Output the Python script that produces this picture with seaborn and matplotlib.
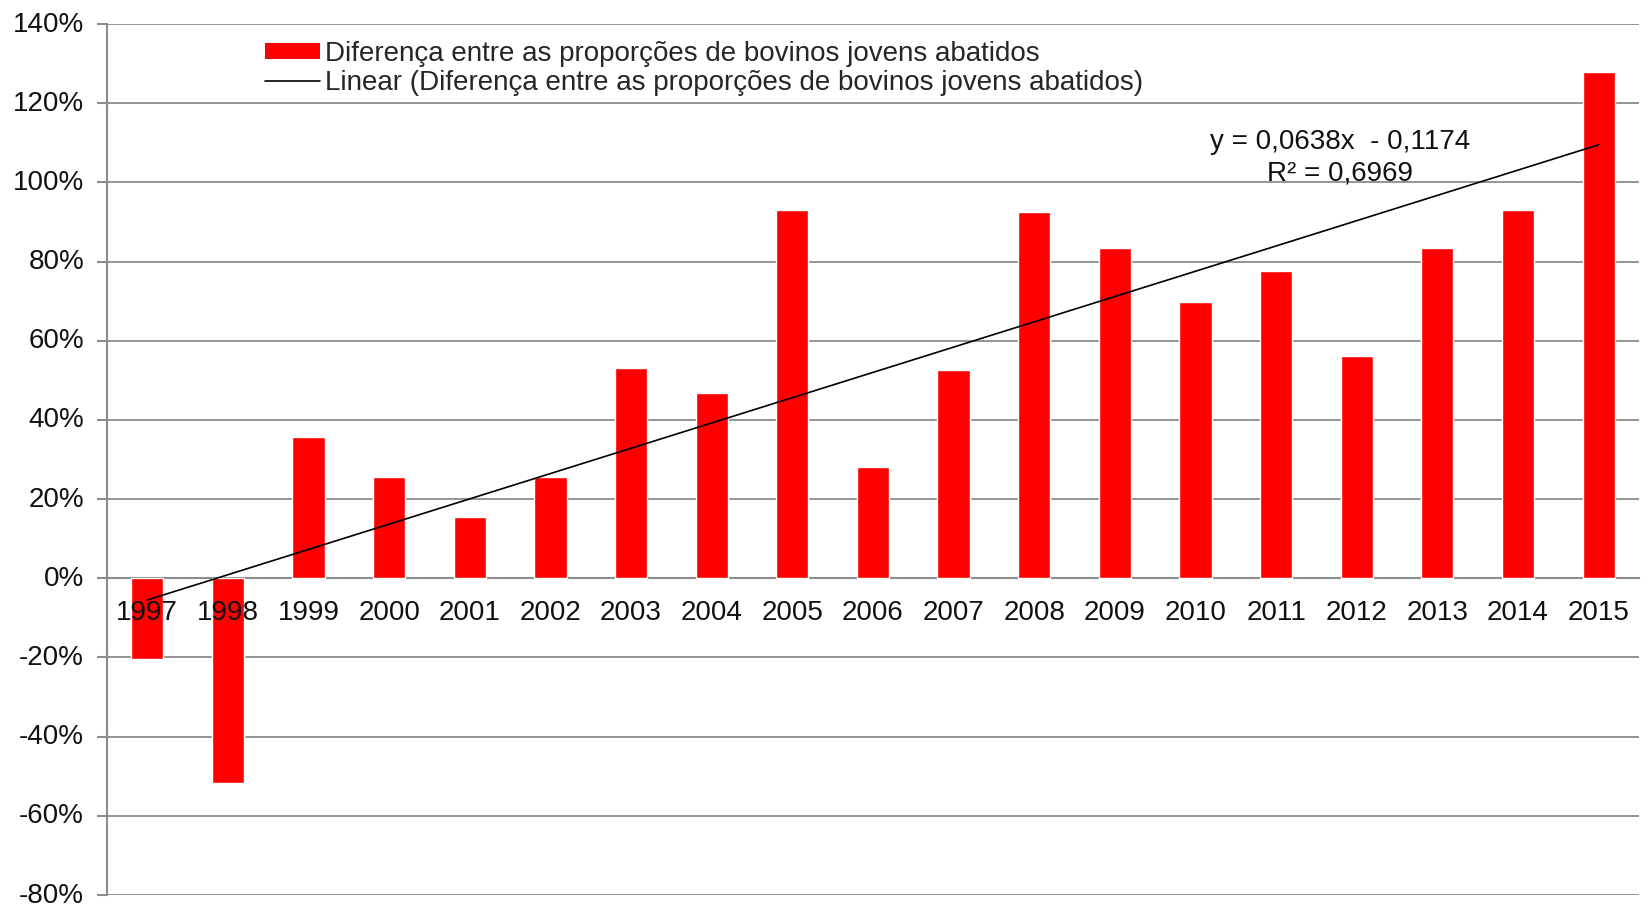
import numpy as np
import pandas as pd
import matplotlib
matplotlib.use("Agg")
import matplotlib.pyplot as plt
import matplotlib.transforms as mtransforms
import seaborn as sns
from matplotlib.ticker import FuncFormatter, FixedLocator
from matplotlib.patches import Patch
from matplotlib.lines import Line2D

years = ["1997", "1998", "1999", "2000", "2001", "2002", "2003", "2004", "2005", "2006",
         "2007", "2008", "2009", "2010", "2011", "2012", "2013", "2014", "2015"]
values = [-0.205, -0.517, 0.358, 0.257, 0.154, 0.257, 0.530, 0.469, 0.930, 0.281,
          0.525, 0.925, 0.835, 0.699, 0.776, 0.562, 0.835, 0.930, 1.280]
yticks = [-0.8, -0.6, -0.4, -0.2, 0.0, 0.2, 0.4, 0.6, 0.8, 1.0, 1.2, 1.4]
series_label = "Diferença entre as proporções de bovinos jovens abatidos"
trend_label = "Linear (Diferença entre as proporções de bovinos jovens abatidos)"
equation = "y = 0,0638x  - 0,1174"
r2_text = "R² = 0,6969"

sns.set_theme(style="white")
plt.rcParams['font.family'] = ['Liberation Sans', 'DejaVu Sans']

df = pd.DataFrame({"ano": years, "dif": values})

fig = plt.figure(figsize=(16.5, 9.07), dpi=100)
ax = fig.add_axes([0.0648, 0.0132, 0.9285, 0.9603])

GRID = "#8c8c8c"
FS = 20
sns.barplot(data=df, x="ano", y="dif", color="#ff0000", width=0.4,
            saturation=1, ax=ax, zorder=2)

# linear trend (Excel-style, x = 1..n)
xs = np.arange(1, len(values) + 1)
coef = np.polyfit(xs, values, 1)
trend = np.polyval(coef, xs)
ax.plot(np.arange(len(values)), trend, color="black", lw=1.2, zorder=4)

ax.set_xlim(-0.5, len(years) - 0.5)
ax.set_ylim(-0.8, 1.4)
ax.yaxis.set_major_locator(FixedLocator(yticks))
ax.yaxis.set_major_formatter(FuncFormatter(lambda v, p: f"{v*100:.0f}%"))
ax.grid(axis="y", color=GRID, lw=1.3, zorder=0)
ax.set_axisbelow(True)
ax.xaxis.set_zorder(5)

for s in ["top", "right"]:
    ax.spines[s].set_visible(False)
ax.spines["left"].set_color(GRID)
ax.spines["left"].set_linewidth(1.5)
ax.spines["bottom"].set_position(("data", 0))
ax.spines["bottom"].set_color(GRID)
ax.spines["bottom"].set_linewidth(1.5)
ax.spines["bottom"].set_zorder(1.5)

ax.set_xticks(np.arange(len(years) + 1) - 0.5, minor=True)
ax.tick_params(axis="x", which="major", length=0, pad=15.5, labelsize=FS, labelcolor="#111111")
ax.tick_params(axis="x", which="minor", length=7, width=1.5, color=GRID, direction="out")
ax.tick_params(axis="y", which="major", length=7.5, width=1.5, color=GRID, left=True,
               labelsize=FS, labelcolor="#111111", pad=9)
ax.set_xlabel("")
ax.set_ylabel("")

# nudge y tick labels slightly upward, as in the reference
offset = mtransforms.ScaledTranslation(0, 2.5 / 100, fig.dpi_scale_trans)
for lbl in ax.get_yticklabels():
    lbl.set_transform(lbl.get_transform() + offset)

handles = [Patch(facecolor="#ff0000", edgecolor="none"),
           Line2D([0], [0], color="black", lw=1.2)]
fig.legend(handles, [series_label, trend_label], loc="upper left",
           bbox_to_anchor=(0.1605, 0.955), bbox_transform=fig.transFigure,
           frameon=False, fontsize=FS, handlelength=2.0, handleheight=0.5,
           handletextpad=0.15, labelspacing=0.1, borderpad=0, borderaxespad=0)

fig.text(0.812, 0.843, equation, ha="center", va="center", fontsize=FS, color="#111111")
fig.text(0.812, 0.809, r2_text, ha="center", va="center", fontsize=FS, color="#111111")

fig.savefig("out.png", dpi=100)
